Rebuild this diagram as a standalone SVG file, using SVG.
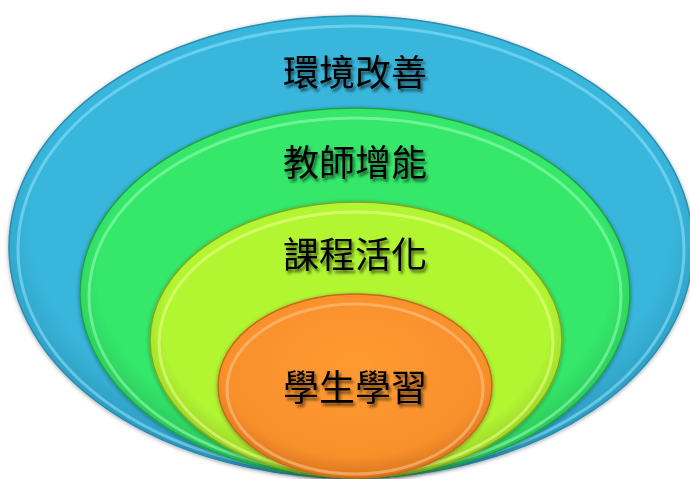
<svg xmlns="http://www.w3.org/2000/svg" width="690" height="479" viewBox="0 0 690 479">
<style>
.lbl{font-family:"Noto Sans CJK TC","Noto Sans CJK SC",sans-serif;font-size:36px;fill:#000;text-anchor:middle;filter:url(#ts)}
.rim{fill:none;stroke-width:3;opacity:0.55}
.edge{fill:none;stroke-width:1.5}
</style>
<defs>
<filter id="ts" x="-20%" y="-40%" width="140%" height="180%">
<feGaussianBlur in="SourceAlpha" stdDeviation="1.6"/>
<feOffset dx="2" dy="3" result="b"/>
<feComponentTransfer><feFuncA type="linear" slope="0.6"/></feComponentTransfer>
<feMerge><feMergeNode/><feMergeNode in="SourceGraphic"/></feMerge>
</filter>
<filter id="sh" x="-10%" y="-10%" width="120%" height="120%">
<feGaussianBlur in="SourceAlpha" stdDeviation="2"/>
<feOffset dx="0" dy="1"/>
<feComponentTransfer><feFuncA type="linear" slope="0.35"/></feComponentTransfer>
<feMerge><feMergeNode/><feMergeNode in="SourceGraphic"/></feMerge>
</filter>
<radialGradient id="gb" cx="0.5" cy="0.45" r="0.55">
<stop offset="0.85" stop-color="#39B6DC"/>
<stop offset="0.97" stop-color="#2F9FC4"/>
<stop offset="1" stop-color="#2A8DB0"/>
</radialGradient>
<radialGradient id="gg" cx="0.5" cy="0.45" r="0.55">
<stop offset="0.85" stop-color="#34E86A"/>
<stop offset="0.97" stop-color="#2CCB5C"/>
<stop offset="1" stop-color="#23A84C"/>
</radialGradient>
<radialGradient id="gy" cx="0.5" cy="0.45" r="0.55">
<stop offset="0.85" stop-color="#B2F632"/>
<stop offset="0.97" stop-color="#9ED82A"/>
<stop offset="1" stop-color="#86B820"/>
</radialGradient>
<radialGradient id="go" cx="0.5" cy="0.4" r="0.6">
<stop offset="0" stop-color="#FF9A30"/>
<stop offset="0.8" stop-color="#F8902C"/>
<stop offset="1" stop-color="#D8741E"/>
</radialGradient>
</defs>
<g id="blue" filter="url(#sh)">
<ellipse cx="351" cy="247" rx="342" ry="231" fill="url(#gb)"/>
<ellipse class="rim" cx="351" cy="250" rx="333" ry="224" stroke="#8FE6FF"/>
<ellipse class="edge" cx="351" cy="247" rx="342" ry="231" stroke="#2A8EB0"/>
<text class="lbl" x="355" y="86">環境改善</text>
</g>
<g id="green" filter="url(#sh)">
<ellipse cx="355" cy="293" rx="275" ry="185" fill="url(#gg)"/>
<ellipse class="rim" cx="355" cy="296" rx="266" ry="178" stroke="#9CFFB8"/>
<ellipse class="edge" cx="355" cy="293" rx="275" ry="185" stroke="#22A04A"/>
<text class="lbl" x="355" y="176">教師增能</text>
</g>
<g id="yellow" filter="url(#sh)">
<ellipse cx="356" cy="340" rx="206" ry="138" fill="url(#gy)"/>
<ellipse class="rim" cx="356" cy="343" rx="197" ry="131" stroke="#F0FF90"/>
<ellipse class="edge" cx="356" cy="340" rx="206" ry="138" stroke="#7FA820"/>
<text class="lbl" x="355" y="268">課程活化</text>
</g>
<g id="orange" filter="url(#sh)">
<ellipse cx="355" cy="386" rx="137" ry="92" fill="url(#go)"/>
<ellipse class="rim" cx="355" cy="389" rx="128" ry="85" stroke="#FFC890"/>
<ellipse class="edge" cx="355" cy="386" rx="137" ry="92" stroke="#C86A1A"/>
<text class="lbl" x="355" y="401">學生學習</text>
</g>
</svg>
